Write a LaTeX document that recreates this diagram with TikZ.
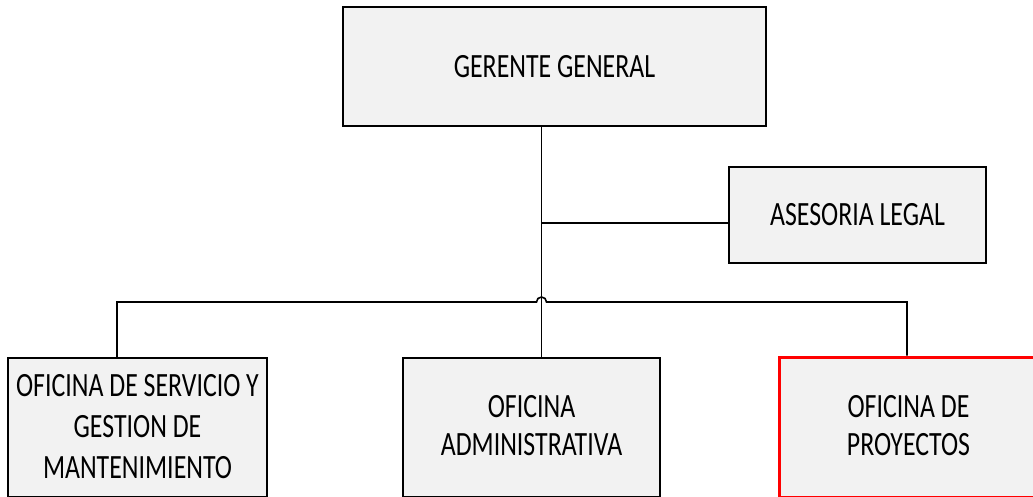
\documentclass[tikz,border=0pt]{standalone}
\usepackage{fontspec}
\setmainfont{Carlito}[FakeStretch=0.76]
\usetikzlibrary{calc}
\definecolor{boxfill}{HTML}{F2F2F2}
\definecolor{redline}{HTML}{FF0000}
\tikzset{
  orgbox/.style={draw=black, line width=1.6pt, fill=boxfill, inner sep=0pt,
    align=center, font=\fontsize{34}{38}\selectfont},
  redbox/.style={orgbox, draw=redline, line width=3pt},
  boxtext/.style={align=center, inner sep=0pt, font=\fontsize{34}{38}\selectfont},
  link/.style={draw=black, line width=1.6pt}
}
\begin{document}
\begin{tikzpicture}[x=1pt,y=-1pt]
\useasboundingbox (0,0) rectangle (1033,497);
\clip (0,0) rectangle (1033,497);
\node[orgbox, minimum width=423pt, minimum height=119pt] (gg) at (554.5,66.5) {GERENTE GENERAL};
\node[orgbox, minimum width=257pt, minimum height=96pt] (legal) at (857.5,215) {ASESORIA LEGAL};
\node[orgbox, minimum width=259pt, minimum height=139pt] (serv) at (137.5,427.5) {};
\node[orgbox, minimum width=257pt, minimum height=139pt] (adm) at (531.5,427.5) {};
\node[redbox, minimum width=259pt, minimum height=140pt] (proy) at (908.5,427) {};
\node[boxtext, font=\fontsize{34}{41}\selectfont] (servt) at (137.5,427) {OFICINA DE SERVICIO Y\\GESTION DE\\MANTENIMIENTO};
\node[boxtext] (admt) at (531.5,426) {OFICINA\\ADMINISTRATIVA};
\node[boxtext] (proyt) at (908.5,426) {OFICINA DE\\PROYECTOS};
\coordinate (t) at (541.5,0);
\coordinate (j) at (541.5,223);
\coordinate (b) at (541.5,302);
\coordinate (lx) at (117,302);
\coordinate (rx) at (907,302);
\draw[link] (gg.south -| t) -- (adm.north -| t);
\draw[link] (j) -- (j -| legal.west);
\draw[link] (lx |- serv.north) -- (lx) -- ($(b)+(-5,0)$) arc (180:360:5) -- (rx) -- (rx |- proy.north);
\end{tikzpicture}
\end{document}
